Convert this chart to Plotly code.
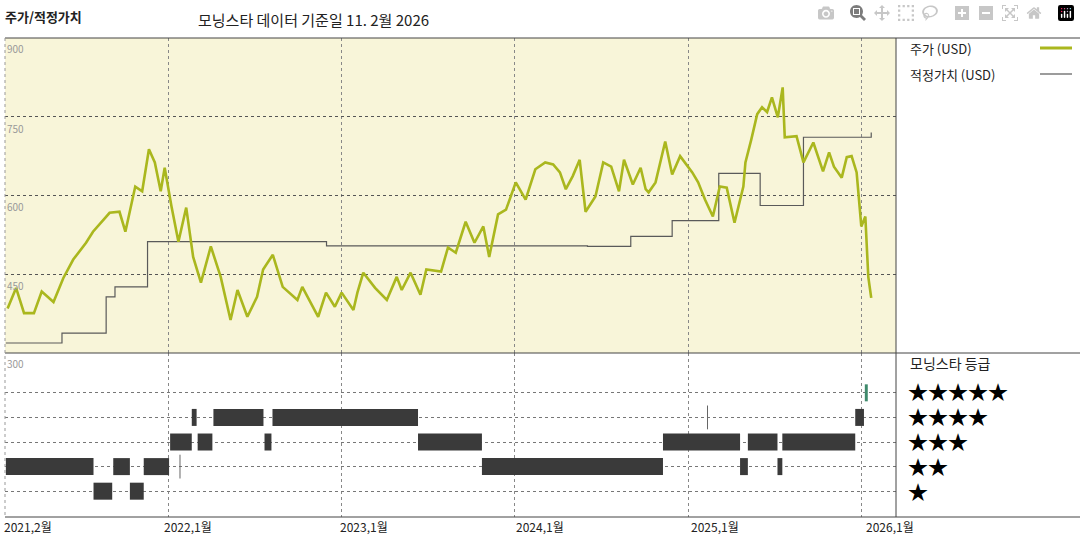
import plotly.graph_objects as go
from datetime import datetime, timedelta

# ---------------- data (decimal years) ----------------
price_t = [2021.070,2021.119,2021.165,2021.222,2021.267,2021.335,2021.392,2021.449,2021.523,2021.563,2021.659,2021.716,2021.750,2021.807,2021.847,2021.886,2021.920,2021.954,2021.977,2022.017,2022.057,2022.102,2022.142,2022.187,2022.244,2022.301,2022.358,2022.398,2022.455,2022.511,2022.546,2022.602,2022.659,2022.744,2022.772,2022.864,2022.909,2022.960,
           2023.000,2023.045,2023.068,2023.091,2023.125,2023.193,2023.261,2023.318,2023.347,2023.398,2023.455,2023.489,2023.574,2023.614,2023.659,2023.716,2023.767,2023.818,2023.852,2023.903,2023.949,2024.006,2024.063,2024.119,2024.176,2024.222,2024.261,2024.295,2024.335,2024.375,2024.409,2024.466,2024.511,2024.557,2024.602,2024.631,2024.682,2024.727,2024.756,2024.773,
           2024.813,2024.869,2024.909,2024.955,2025.023,2025.057,2025.097,2025.142,2025.182,2025.222,2025.267,2025.318,2025.330,2025.364,2025.398,2025.426,2025.455,2025.483,2025.517,2025.545,2025.557,2025.625,2025.665,2025.722,2025.778,2025.813,2025.841,2025.886,2025.915,2025.943,2025.972,2025.999,2026.023,2026.040,2026.057]
price_v = [385,424,376,376,417,397,443,478,510,531,567,569,531,617,608,688,663,608,653,579,512,577,483,434,503,445,363,420,369,407,459,487,426,401,426,369,415,388,
           415,392,382,415,453,424,401,445,420,453,411,459,455,501,491,550,510,541,483,564,573,625,592,650,663,659,644,612,637,668,569,598,663,655,608,668,621,653,612,606,
           625,703,640,675,644,625,592,560,617,615,548,617,663,707,755,768,759,787,749,806,711,713,663,701,646,682,655,634,673,675,644,541,560,445,405]

fair_t = [2021.060,2021.384,2021.639,2021.690,2021.878,2022.912,2024.420,2024.670,2024.909,2025.176,2025.415,2025.665,2026.057]
fair_v = [319,338,407,426,512,504,503,522,552,642,581,711,720]

# Morningstar rating periods: start, end (decimal years), stars
rating_start = [2021.060,2021.680,2021.856,2023.810,2025.299,2025.515,
                2021.566,2021.776,
                2022.009,2022.168,2022.554,2023.441,2024.856,2025.344,2025.543,
                2022.134,2022.259,2022.600,2025.964,
                2026.020]
rating_end   = [2021.566,2021.776,2022.003,2024.856,2025.344,2025.543,
                2021.674,2021.856,
                2022.134,2022.253,2022.594,2023.810,2025.299,2025.515,2025.964,
                2022.162,2022.548,2023.441,2026.015,
                2026.037]
rating_val   = [2,2,2,2,2,2,
                1,1,
                3,3,3,3,3,3,3,
                4,4,4,4,
                5]
single_marks_t = [2022.066, 2025.111]
single_marks_v = [2, 4]

def d(y):
    yr = int(y)
    return datetime(yr, 1, 1) + timedelta(days=(y - yr) * 365.25)

X0, X1 = 2021.055, 2026.2
W, H = 1080, 540
def px(x): return x / W
def py(y): return 1 - y / H

fig = go.Figure()
fig.add_trace(go.Scatter(x=[d(t) for t in fair_t], y=fair_v, mode="lines", line=dict(shape="hv", color="#5a5a5a", width=1.2), xaxis="x", yaxis="y", hoverinfo="skip"))
fig.add_trace(go.Scatter(x=[d(t) for t in price_t], y=price_v, mode="lines", line=dict(color="#aab71e", width=2.6), xaxis="x", yaxis="y"))

for s, e, v in zip(rating_start, rating_end, rating_val):
    col = "#3f8a6c" if v == 5 else "#3a3a3a"
    fig.add_trace(go.Scatter(x=[d(s), d(e)], y=[v, v], mode="lines", line=dict(color=col, width=17), xaxis="x2", yaxis="y2", hoverinfo="skip"))
fig.add_trace(go.Scatter(x=[d(t) for t in single_marks_t], y=single_marks_v, mode="markers",
                         marker=dict(symbol="line-ns", size=17, line=dict(width=1, color="#666")), xaxis="x2", yaxis="y2"))

ax_common = dict(type="date", range=[d(X0), d(X1)], showticklabels=False, showgrid=True,
                 gridcolor="#888", griddash="dot", gridwidth=1, zeroline=False,
                 tickvals=[d(2022), d(2023), d(2024), d(2025), d(2026)])
fig.update_layout(
    width=W, height=H, margin=dict(l=0, r=0, t=0, b=0), showlegend=False,
    paper_bgcolor="white", plot_bgcolor="white",
    font=dict(family="Noto Sans CJK KR", color="#222"),
    xaxis=dict(domain=[px(5), px(896)], anchor="y", **ax_common),
    yaxis=dict(domain=[py(353), py(38)], range=[300, 900], tickvals=[450, 600, 750], showticklabels=False,
               gridcolor="#555", griddash="dot", zeroline=False),
    xaxis2=dict(domain=[px(5), px(896)], anchor="y2", **ax_common),
    yaxis2=dict(domain=[py(517), py(353)], range=[-0.05, 6.62], tickvals=[1, 2, 3, 4, 5], showticklabels=False,
                gridcolor="#777", griddash="dot", zeroline=False),
)
fig.add_shape(type="rect", xref="paper", yref="paper", x0=px(5), x1=px(896), y0=py(353), y1=py(38),
              fillcolor="#f8f5d9", line_width=0, layer="below")

line_k = dict(color="#444", width=1)
for (x0, y0, x1, y1) in [(5, 38, 1080, 38), (5, 517, 1080, 517), (896, 38, 896, 517), (5, 353, 1080, 353)]:
    fig.add_shape(type="line", xref="paper", yref="paper", x0=px(x0), x1=px(x1), y0=py(y0), y1=py(y1), line=line_k)
fig.add_shape(type="line", xref="paper", yref="paper", x0=px(5), x1=px(5), y0=py(38), y1=py(517), line=dict(color="#999", width=1, dash="dot"))

def txt(x, y, s, size=12, color="#222", xanchor="left", bold=False):
    fig.add_annotation(x=px(x), y=py(y), xref="paper", yref="paper", text=f"<b>{s}</b>" if bold else s,
                       showarrow=False, xanchor=xanchor, yanchor="middle", font=dict(size=size, color=color))

txt(3, 17, "주가/적정가치", 13, bold=True)
txt(196, 20, "모닝스타 데이터 기준일 11. 2월 2026", 15)
for yv, ypx in [("900", 48), ("750", 128), ("600", 206), ("450", 285), ("300", 363)]:
    txt(5, ypx, yv, 10, "#999")
for lab, xp in [("2021,2월", 2), ("2022,1월", 162), ("2023,1월", 338), ("2024,1월", 514), ("2025,1월", 689), ("2026,1월", 864)]:
    txt(xp, 526, lab, 12)
txt(908, 48, "주가 (USD)", 13)
txt(908, 74, "적정가치 (USD)", 13)
fig.add_shape(type="line", xref="paper", yref="paper", x0=px(1040), x1=px(1072), y0=py(48), y1=py(48), line=dict(color="#aab71e", width=3))
fig.add_shape(type="line", xref="paper", yref="paper", x0=px(1040), x1=px(1072), y0=py(74), y1=py(74), line=dict(color="#5a5a5a", width=1.2))
txt(908, 363, "모닝스타 등급", 14)
for n, ypx in zip([5, 4, 3, 2, 1], [391, 416, 441, 466, 491]):
    txt(906, ypx, "★" * n, 20, "#000")

fig.write_html("out.html", post_script="document.body.style.margin='0';document.body.style.overflow='hidden';")
